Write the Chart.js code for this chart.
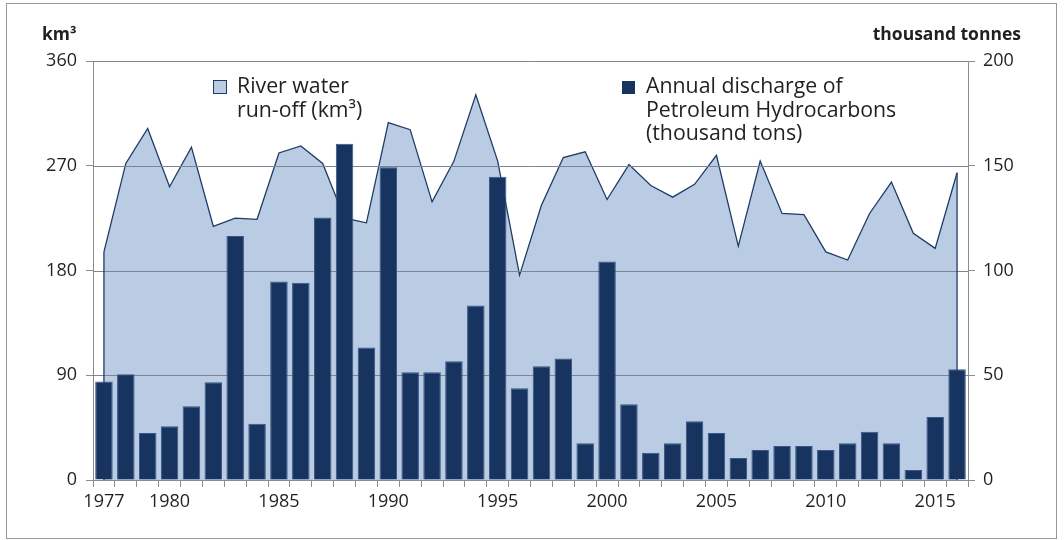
<!DOCTYPE html>
<html lang="en">

<head>
    <meta charset="UTF-8">
    <title>River run-off and petroleum hydrocarbons</title>
    <script src="https://cdn.jsdelivr.net/npm/chart.js"></script>
    <style>
        body { margin: 0; background: #fff; }
        #wrap { position: relative; width: 1064px; height: 540px; }
        #frame {
            position: absolute; left: 6px; top: 3px; width: 1049px; height: 534px;
            border: 1px solid #9a9a9a; pointer-events: none;
        }
    </style>
</head>

<body>
    <div id="wrap">
        <canvas id="chart"></canvas>
        <div id="frame"></div>
    </div>

    <script>
        // Data
        const years = ['1977', '1978', '1979', '1980', '1981', '1982', '1983', '1984', '1985', '1986',
            '1987', '1988', '1989', '1990', '1991', '1992', '1993', '1994', '1995', '1996',
            '1997', '1998', '1999', '2000', '2001', '2002', '2003', '2004', '2005', '2006',
            '2007', '2008', '2009', '2010', '2011', '2012', '2013', '2014', '2015', '2016'];

        // river water run-off, km3 (left axis)
        const runoff = [196, 272, 302, 252, 286, 218, 225, 224, 281, 287,
            272, 225, 221, 307, 301, 239, 274, 331, 274, 176,
            236, 277, 282, 241, 271, 253, 243, 254, 279, 201,
            274, 229, 228, 196, 189, 229, 256, 212, 199, 264];

        // petroleum hydrocarbons, thousand tonnes (right axis)
        const discharge = [47, 50.5, 22.4, 25.7, 35.2, 46.7, 116.5, 26.8, 94.8, 94.2,
            125.3, 160.5, 63.3, 149.3, 51.4, 51.4, 56.7, 83.3, 144.8, 43.8,
            54.3, 58, 17.5, 104.3, 36.2, 13, 17.5, 28, 22.4, 10.5,
            14.3, 16.2, 16.2, 14.3, 17.5, 23, 17.5, 4.8, 30.1, 52.9];

        const shownYears = ['1977', '1980', '1985', '1990', '1995', '2000', '2005', '2010', '2015'];
        const leftTicks = [0, 90, 180, 270, 360];
        const rightTicks = [0, 50, 100, 150, 200];

        const FONT = "'Open Sans', sans-serif";
        const TEXT = '#231f20';
        const AXIS = '#8c8c8c';
        const GRID = '#7c8591';
        const AREA = '#b9cce4';
        const LINE = '#1f3b66';
        const BAR = '#173360';

        // gridlines go over the area but under the bars, plus the area's end edges
        const overlay = {
            id: 'overlay',
            afterDatasetDraw(chart, args) {
                if (args.meta.type !== 'line') return;
                const ctx = chart.ctx;
                const area = chart.chartArea;
                const y = chart.scales.y;
                ctx.save();
                ctx.strokeStyle = GRID;
                ctx.lineWidth = 1;
                leftTicks.forEach(v => {
                    if (v === 0) return;
                    const py = Math.round(y.getPixelForValue(v)) + 0.5;
                    ctx.beginPath();
                    ctx.moveTo(area.left, py);
                    ctx.lineTo(area.right, py);
                    ctx.stroke();
                });
                const pts = args.meta.data;
                const base = y.getPixelForValue(0);
                ctx.strokeStyle = LINE;
                ctx.lineWidth = 1.3;
                [pts[0], pts[pts.length - 1]].forEach(p => {
                    ctx.beginPath();
                    ctx.moveTo(p.x, p.y);
                    ctx.lineTo(p.x, base);
                    ctx.stroke();
                });
                ctx.restore();
            },
            afterDraw(chart) {
                const ctx = chart.ctx;
                ctx.save();
                ctx.fillStyle = TEXT;
                ctx.textBaseline = 'alphabetic';

                // unit titles
                ctx.font = 'bold 17.5px ' + FONT;
                ctx.textAlign = 'left';
                ctx.fillText('km³', 42, 40);
                ctx.textAlign = 'right';
                ctx.fillText('thousand tonnes', 1021, 40);

                // legend
                ctx.textAlign = 'left';
                ctx.font = '21.3px ' + FONT;
                ctx.fillStyle = AREA;
                ctx.fillRect(213.5, 80.5, 13, 13);
                ctx.strokeStyle = LINE;
                ctx.lineWidth = 1;
                ctx.strokeRect(213.5, 80.5, 13, 13);
                ctx.fillStyle = TEXT;
                ctx.fillText('River water', 237, 93);
                ctx.fillText('run-off (km³)', 237, 117);

                ctx.fillStyle = BAR;
                ctx.fillRect(622, 81, 13, 13);
                ctx.fillStyle = TEXT;
                ctx.fillText('Annual discharge of', 646, 93);
                ctx.fillText('Petroleum Hydrocarbons', 646, 117);
                ctx.fillText('(thousand tons)', 646, 140);
                ctx.restore();
            }
        };

        new Chart(document.getElementById('chart'), {
            type: 'bar',
            data: {
                labels: years,
                datasets: [{
                    type: 'bar',
                    label: 'Annual discharge of Petroleum Hydrocarbons (thousand tons)',
                    data: discharge,
                    yAxisID: 'y1',
                    backgroundColor: BAR,
                    borderColor: '#3a5583',
                    borderWidth: 1,
                    barPercentage: 0.8,
                    categoryPercentage: 1.0,
                    order: 1
                }, {
                    type: 'line',
                    label: 'River water run-off (km³)',
                    data: runoff,
                    yAxisID: 'y',
                    borderColor: LINE,
                    borderWidth: 1.3,
                    backgroundColor: AREA,
                    fill: 'origin',
                    pointRadius: 0,
                    tension: 0,
                    order: 2
                }]
            },
            options: {
                responsive: true,
                maintainAspectRatio: false,
                animation: false,
                layout: { padding: { top: 61, left: 0, right: 0, bottom: 0 } },
                plugins: {
                    legend: { display: false },
                    tooltip: { enabled: false }
                },
                scales: {
                    x: {
                        offset: true,
                        afterFit: s => { s.height = 60; },
                        border: { display: true, color: AXIS, width: 1 },
                        grid: {
                            offset: true,
                            drawOnChartArea: false,
                            drawTicks: true,
                            tickLength: 7,
                            color: AXIS
                        },
                        ticks: {
                            autoSkip: false,
                            maxRotation: 0,
                            padding: 4,
                            color: TEXT,
                            font: { family: FONT, size: 18 },
                            callback: function (value) {
                                const label = this.getLabelForValue(value);
                                return shownYears.includes(label) ? label : '';
                            }
                        }
                    },
                    y: {
                        position: 'left',
                        min: 0,
                        max: 360,
                        afterFit: s => { s.width = 93; },
                        afterBuildTicks: s => { s.ticks = leftTicks.map(v => ({ value: v })); },
                        border: { display: true, color: AXIS, width: 1 },
                        grid: {
                            drawOnChartArea: false,
                            drawTicks: true,
                            tickLength: 7,
                            color: AXIS
                        },
                        ticks: {
                            padding: 9,
                            color: TEXT,
                            font: { family: FONT, size: 18 }
                        }
                    },
                    y1: {
                        position: 'right',
                        min: 0,
                        max: 200,
                        afterFit: s => { s.width = 96; },
                        afterBuildTicks: s => { s.ticks = rightTicks.map(v => ({ value: v })); },
                        border: { display: true, color: AXIS, width: 1 },
                        grid: {
                            drawOnChartArea: false,
                            drawTicks: true,
                            tickLength: 7,
                            color: AXIS
                        },
                        ticks: {
                            padding: 8,
                            color: TEXT,
                            font: { family: FONT, size: 18 }
                        }
                    }
                }
            },
            plugins: [overlay]
        });
    </script>
</body>

</html>
